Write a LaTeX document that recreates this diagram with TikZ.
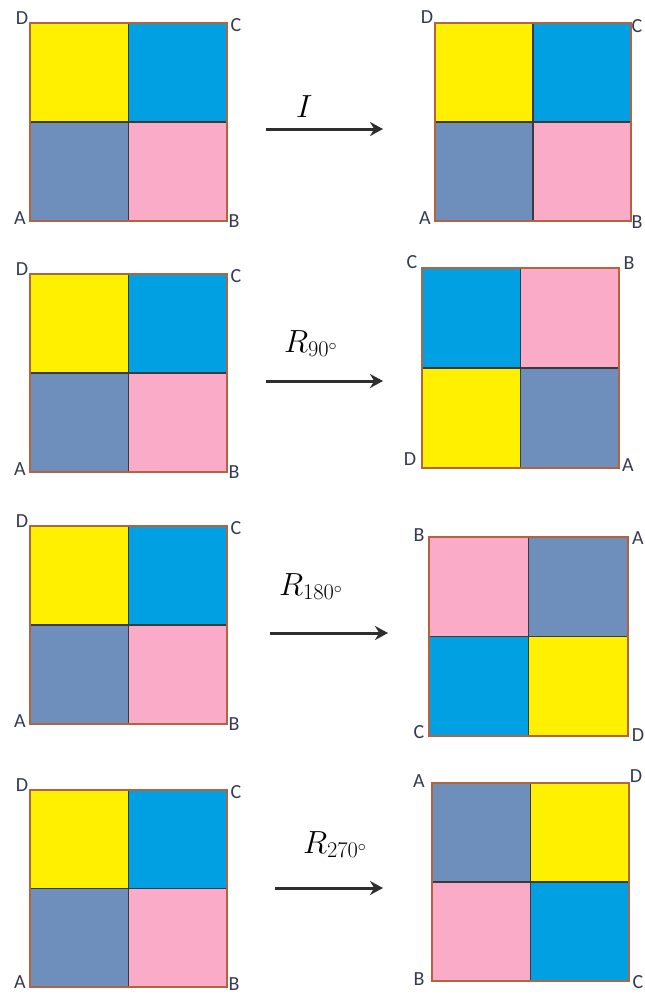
\documentclass[tikz,border=0pt]{standalone}
\RequirePackage{fix-cm}
\usepackage{fontspec}
\setmainfont{Carlito}
\usetikzlibrary{calc,arrows.meta}
\definecolor{qyel}{HTML}{FFF000}
\definecolor{qcya}{HTML}{00A0E2}
\definecolor{qsla}{HTML}{6E8EBC}
\definecolor{qpin}{HTML}{F9ABC8}
\definecolor{qbrn}{HTML}{B4643C}
\definecolor{qdiv}{HTML}{3A3A3A}
\definecolor{qlet}{HTML}{353B52}
\definecolor{qarr}{HTML}{2E2E2E}
\tikzset{
  corner/.style={font=\fontsize{20}{22}\selectfont, text=qlet, inner sep=0pt},
  oplabel/.style={font=\fontsize{32}{34}\selectfont, inner sep=0pt, anchor=base west},
  maparrow/.style={draw=qarr, line width=3pt, -{Stealth[length=13pt,width=14pt]}},
  divline/.style={draw=qdiv, line width=1.3pt},
  frameline/.style={draw=qbrn, line width=2.2pt}
}
% #1 name, #2 x0, #3 y0, #4 x1, #5 y1, #6 TL, #7 TR, #8 BL, #9 BR
\newcommand{\gridsq}[9]{%
  \coordinate (#1-tl) at (#2,#3);
  \coordinate (#1-br) at (#4,#5);
  \coordinate (#1-c) at ($(#1-tl)!0.5!(#1-br)$);
  \fill[#6] (#1-tl) rectangle (#1-c);
  \fill[#7] (#1-c |- #1-tl) rectangle (#1-br |- #1-c);
  \fill[#8] (#1-tl |- #1-c) rectangle (#1-c |- #1-br);
  \fill[#9] (#1-c) rectangle (#1-br);
  \draw[divline] (#1-c |- #1-tl) -- (#1-c |- #1-br);
  \draw[divline] (#1-tl |- #1-c) -- (#1-br |- #1-c);
  \draw[frameline] (#1-tl) rectangle (#1-br);
}
\begin{document}
\begin{tikzpicture}[x=1pt,y=-1pt]
\useasboundingbox (0,0) rectangle (645,994);
\fill[white] (0,0) rectangle (645,994);

% left squares
\gridsq{L1}{30}{23}{227}{221}{qyel}{qcya}{qsla}{qpin}
\gridsq{L2}{30}{274}{227}{472}{qyel}{qcya}{qsla}{qpin}
\gridsq{L3}{30}{526}{227}{724}{qyel}{qcya}{qsla}{qpin}
\gridsq{L4}{30}{790}{227}{987}{qyel}{qcya}{qsla}{qpin}

% right squares
\gridsq{R1}{435}{23}{631}{221}{qyel}{qcya}{qsla}{qpin}
\gridsq{R2}{422}{268}{619}{468}{qcya}{qpin}{qyel}{qsla}
\gridsq{R3}{429}{537}{628}{736}{qpin}{qsla}{qcya}{qyel}
\gridsq{R4}{432}{783}{629}{981}{qsla}{qyel}{qpin}{qcya}

% left labels
\node[corner] (l1d) at (22,18) {D};
\node[corner] (l1c) at (236,25) {C};
\node[corner] (l1a) at (20,218) {A};
\node[corner] (l1b) at (234,221) {B};
\node[corner] (l2d) at (22,269) {D};
\node[corner] (l2c) at (236,276) {C};
\node[corner] (l2a) at (20,469) {A};
\node[corner] (l2b) at (234,472) {B};
\node[corner] (l3d) at (22,521) {D};
\node[corner] (l3c) at (236,528) {C};
\node[corner] (l3a) at (20,721) {A};
\node[corner] (l3b) at (234,724) {B};
\node[corner] (l4d) at (22,785) {D};
\node[corner] (l4c) at (236,792) {C};
\node[corner] (l4a) at (20,982) {A};
\node[corner] (l4b) at (234,984) {B};

% right labels
\node[corner] (r1d) at (427,17) {D};
\node[corner] (r1c) at (637,26) {C};
\node[corner] (r1a) at (425,218) {A};
\node[corner] (r1b) at (637,222) {B};
\node[corner] (r2c) at (412,262) {C};
\node[corner] (r2b) at (629,263) {B};
\node[corner] (r2d) at (410,459) {D};
\node[corner] (r2a) at (628,465) {A};
\node[corner] (r3b) at (419,535) {B};
\node[corner] (r3a) at (638,538) {A};
\node[corner] (r3c) at (419,732) {C};
\node[corner] (r3d) at (638,735) {D};
\node[corner] (r4a) at (419,781) {A};
\node[corner] (r4d) at (636,776) {D};
\node[corner] (r4b) at (419,979) {B};
\node[corner] (r4c) at (638,982) {C};

% arrows
\coordinate (a1s) at (266,129); \coordinate (a1e) at (383,129);
\coordinate (a2s) at (266,381); \coordinate (a2e) at (383,381);
\coordinate (a3s) at (270,633); \coordinate (a3e) at (388,633);
\coordinate (a4s) at (275,888); \coordinate (a4e) at (383,888);
\draw[maparrow] (a1s) -- (a1e);
\draw[maparrow] (a2s) -- (a2e);
\draw[maparrow] (a3s) -- (a3e);
\draw[maparrow] (a4s) -- (a4e);

% operation labels
\node[oplabel] (op1) at (296,117) {$I$};
\node[oplabel] (op2) at (284,352) {$R_{90^\circ}$};
\node[oplabel] (op3) at (279,595) {$R_{180^\circ}$};
\node[oplabel] (op4) at (303,853) {$R_{270^\circ}$};
\end{tikzpicture}
\end{document}
